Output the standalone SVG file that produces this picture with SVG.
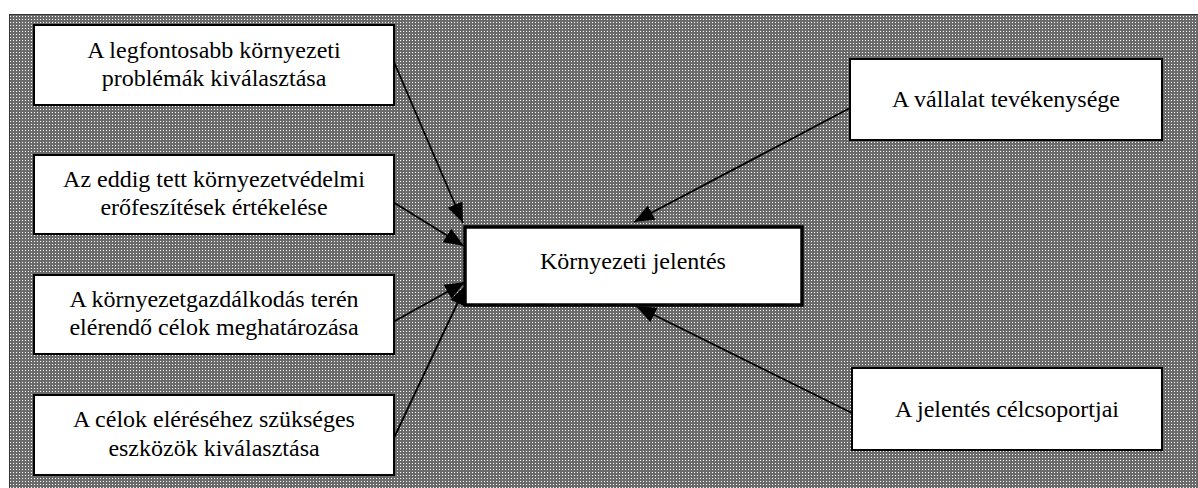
<svg xmlns="http://www.w3.org/2000/svg" width="1198" height="488" viewBox="0 0 1198 488">
<style>
.box{fill:#ffffff;stroke:#000000;stroke-width:2}
.main{fill:#ffffff;stroke:#000000;stroke-width:3.5}
.t{font-family:"Liberation Serif","Times New Roman",serif;font-size:24px;fill:#000000;text-anchor:middle}
.c{stroke:#000000;stroke-width:1.8;fill:none;marker-end:url(#ah)}
</style>
<defs>
<pattern id="dots" width="3" height="3" patternUnits="userSpaceOnUse">
<rect width="3" height="3" fill="#6a6a6a"/>
<rect x="1" y="1" width="1" height="1" fill="#ffffff"/>
</pattern>
<marker id="ah" markerUnits="userSpaceOnUse" markerWidth="22" markerHeight="18" refX="20" refY="8" orient="auto">
<path d="M0,0 L20,8 L0,16 z" fill="#000000"/>
</marker>
</defs>
<rect id="frame" x="9.5" y="14.5" width="1200" height="480" fill="url(#dots)" stroke="#333333" stroke-width="1"/>
<g id="connectors">
<line class="c" x1="394" y1="62" x2="463" y2="223"/>
<line class="c" x1="393" y1="202" x2="464" y2="246"/>
<line class="c" x1="393" y1="322" x2="465" y2="282"/>
<line class="c" x1="393" y1="440" x2="466" y2="285"/>
<line class="c" x1="850" y1="108" x2="634" y2="222"/>
<line class="c" x1="852" y1="413" x2="636" y2="306"/>
</g>
<g font-family="Liberation Serif, Times New Roman, serif">
<g id="n1">
<rect class="box" x="34" y="25" width="360" height="80"/>
<text class="t" x="214" y="58">A legfontosabb környezeti</text>
<text class="t" x="214" y="86">problémák kiválasztása</text>
</g>
<g id="n2">
<rect class="box" x="34" y="155" width="360" height="79"/>
<text class="t" x="214" y="187">Az eddig tett környezetvédelmi</text>
<text class="t" x="214" y="215">erőfeszítések értékelése</text>
</g>
<g id="n3">
<rect class="box" x="34" y="275" width="360" height="79"/>
<text class="t" x="214" y="307">A környezetgazdálkodás terén</text>
<text class="t" x="214" y="335">elérendő célok meghatározása</text>
</g>
<g id="n4">
<rect class="box" x="34" y="395" width="360" height="80"/>
<text class="t" x="214" y="427">A célok eléréséhez szükséges</text>
<text class="t" x="214" y="456">eszközök kiválasztása</text>
</g>
<g id="center">
<rect class="main" x="465" y="227" width="337" height="78"/>
<text class="t" x="633" y="269">Környezeti jelentés</text>
</g>
<g id="r1">
<rect class="box" x="850" y="59" width="312" height="81"/>
<text class="t" x="1006" y="107">A vállalat tevékenysége</text>
</g>
<g id="r2">
<rect class="box" x="852" y="368" width="310" height="82"/>
<text class="t" x="1007" y="417">A jelentés célcsoportjai</text>
</g>
</g>
</svg>
